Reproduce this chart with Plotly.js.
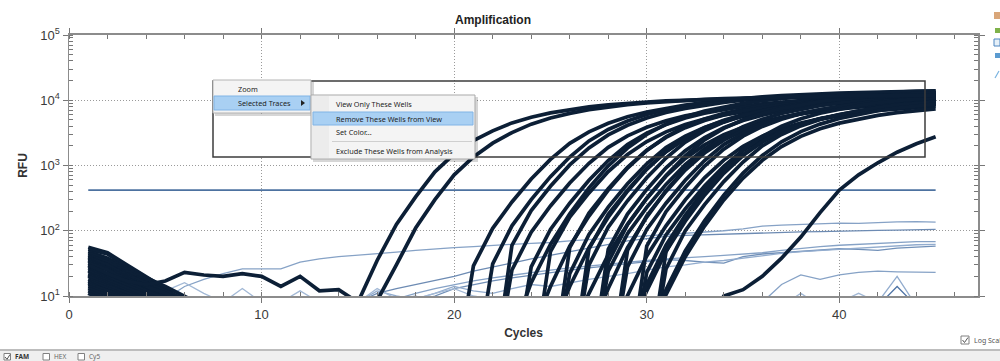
<!DOCTYPE html>
<html><head><meta charset="utf-8">
<script src="https://cdn.plot.ly/plotly-3.0.1.min.js"></script>
<style>html,body{margin:0;padding:0;background:#fff;}#chart{width:1000px;height:361px;}</style>
</head><body><div id="chart"></div>
<script>
// ---------------- DATA ----------------
const thresholdRFU = 420;
const thresholdCycles = [1, 45];

// early amplifying wells (value list starts at the given cycle)
const earlyAStart = 1;
const earlyA = [30,22,17,15,17,23,21,20,22,20,14,20,12,12.5,8,35,125,330,800,1500,2400,3400,4500,5500,6400,7200,7900,8500,9000,9400,9750,10000,10250,10450,10650,10800,10950,11100,11200,11300,11400,11500,11600,11650,11700];
const earlyBStart = 15;
const earlyB = [3,8.5,30,110,300,720,1350,2200,3200,4300,5350,6300,7150,7900,8550,9100,9550,9950,10300,10600,10850,11050,11250,11400,11550,11650,11750,11850,11900,11950,12000];
const lateCStart = 33;
const lateC = [3,10,12.5,20,38,80,190,420,720,1100,1600,2150,2750];

// main group of amplifying wells: first cycle of each list
const mainStart = [20,21,22,22,23,23,24,24,25,25,25,26,26,26,27,27,27,28,28,28,29,29,29,29,30,30,30,30,27];
const mainValues = [
 [0.5,29,109,276,621,1240,2190,3280,4430,5580,6610,7590,8450,9200,9830,10350,10810,11210,11560,11850,12080,12300,12480,12650,12770,12880],
 [0.5,31,119,300,675,1350,2380,3560,4810,6060,7190,8250,9190,10000,10690,11250,11750,12190,12560,12880,13130,13380,13560,13750,13880],
 [0.5,25,95,240,540,1080,1900,2850,3850,4850,5750,6600,7350,8000,8550,9000,9400,9750,10050,10300,10500,10700,10850,11000],
 [0.5,60,204,480,1020,1860,2940,4140,5340,6480,7500,8460,9300,10020,10620,11100,11520,11880,12180,12420,12660,12840,13020,13140],
 [0.5,28,105,264,594,1190,2090,3140,4240,5340,6330,7260,8090,8800,9410,9900,10340,10730,11060,11330,11550,11770,11940],
 [2.5,16,62,182,455,990,1850,2990,4290,5590,6830,7930,8970,9880,10660,11310,11900,12350,12740,13070,13390,13650,13850],
 [0.5,48,162,380,808,1470,2330,3280,4230,5130,5940,6700,7360,7930,8410,8790,9120,9410,9640,9830,10020,10170],
 [2.5,14,58,168,420,912,1700,2760,3960,5160,6300,7320,8280,9120,9840,10440,10980,11400,11760,12060,12360,12600],
 [0.5,55,187,440,935,1710,2700,3800,4900,5940,6880,7760,8530,9190,9740,10180,10560,10890,11170,11390,11610],
 [0.5,22,88,230,525,1060,1880,2830,3830,4830,5740,6590,7340,7990,8540,8990,9390,9740,10040,10290,10490],
 [2.5,14,55,161,403,874,1630,2650,3800,4950,6040,7020,7940,8740,9430,10010,10520,10930,11270,11560,11850],
 [0.5,53,179,420,893,1630,2570,3620,4670,5670,6560,7400,8140,8770,9290,9710,10080,10400,10660,10870],
 [0.5,30,114,288,648,1300,2280,3420,4620,5820,6900,7920,8820,9600,10260,10800,11280,11700,12060,12360],
 [2.5,11,43,126,315,684,1280,2070,2970,3870,4730,5490,6210,6840,7380,7830,8240,8550,8820,9050],
 [0.5,52,180,430,920,1690,2680,3780,4880,5920,6860,7740,8510,9170,9720,10160,10540,10870,11150],
 [0.5,24,90,228,513,1030,1810,2710,3660,4610,5460,6270,6980,7600,8120,8550,8930,9260,9550],
 [2.5,13,55,162,410,895,1680,2730,3920,5120,6260,7280,8240,9080,9800,10400,10940,11360,11720],
 [0.5,50,170,400,850,1550,2450,3450,4450,5400,6250,7050,7750,8350,8850,9250,9600,9900],
 [0.5,28,105,264,594,1190,2090,3140,4240,5340,6330,7260,8090,8800,9410,9900,10340,10730],
 [2.5,10.5,41,119,298,646,1210,1960,2810,3660,4460,5190,5870,6460,6970,7400,7780,8080],
 [0.5,58,196,460,978,1780,2820,3970,5120,6210,7190,8110,8910,9600,10180,10640,11040],
 [0.5,23,86,216,486,972,1710,2570,3470,4370,5180,5940,6620,7200,7700,8100,8460],
 [2.5,12,48,140,350,760,1420,2300,3300,4300,5250,6100,6900,7600,8200,8700,9150],
 [2.5,15,60,172,428,925,1720,2780,3990,5190,6330,7350,8310,9150,9870,10470,11000],
 [0.5,48,162,380,808,1470,2330,3280,4230,5130,5940,6700,7360,7930,8410,8790],
 [0.5,26,100,252,567,1130,2000,2990,4040,5090,6040,6930,7720,8400,8980,9450],
 [2.5,10.5,40,118,296,640,1200,1950,2800,3650,4460,5180,5860,6450,6960,7390],
 [2.5,12.5,49,142,352,765,1425,2305,3310,4310,5260,6110,6910,7610,8210,8710],
 [0.5,33,124,312,702,1400,2470,3710,5010,6310,7480,8580,9560,10400,11120,11700,12220,12680,13070]
];

// early-cycle baseline drift of the wells (lists start at cycle 1)
const baseValues = [
 [56,46,30,20,13,8],[52,44,28,19,14,10,7],[48,38,26,18,12,8],[45,36,24,16,11,7],
 [42,33,22,15,10,7],[40,30,21,16,12,9],[38,30,20,14,10,6],[36,27,19,13,9],
 [34,26,18,14,11,8],[32,25,17,12,8],[29,22,15,11,8],[27,21,16,12,9],
 [25,19,14,11,8],[24,18,13,10,7],[22,17,13,10,8],[21,16,12,9],[20,15,11,8],
 [18,14,11,9],[17,13,10,8],[16,12,10,8],[15,12,9],[14,11,9],[13,10,8],[12,9],[11,8]
];

// non-amplifying wells (thin lines): first cycle of each list
const thinStart = [5,15,17,18,15,35,4,11,41,42,37,40,15,18];
const thinValues = [
 [9,14,18,22,26,26,26,33,37,40,42,45,47,50,53,55,57,60,62,64,66,70,73,77,80,84,87,92,96,100,107,118,122,126,128,131,130,134,137,138,136],
 [8,11,13,15,17,20,24,28,32,37,42,48,55,62,70,76,82,85,87,89,90,92,94,96,97,99,100,101,102,103,105],
 [9,11,13,15,17,19,21,23,25,27,29,31,33,35,37,38,40,42,44,46,50,54,57,60,62,64,66,68,68],
 [8,10,13,15,17,19,21,23,25,27,29,31,33,36,35,33,32,40,44,46,48,51,53,52,50,54,56,58],
 [8,12,10,9,11,14,12,11,13,15,14,16,18,20,22,25,28,30,33,35,38,42,45,48,50,52,55,57,59,61,62],
 [4,8,15,21,18,21,23,24,23.5,23,23],
 [8,12,16,11,8,13,8],
 [8,12,8],
 [6,8,20,7,5],
 [7,14,7],
 [7,11,7],
 [8,11,8],
 [8,13,9,10,8],
 [9,11,13,10,9]
];

// ---------------- BUILD ----------------
function cyclesFrom(start, n){ const c=[]; for(let i=0;i<n;i++) c.push(start+i); return c; }
const thick = {color:'#0c1f36', width:3.7};
const thinColors = ['#86a2c6','#6d8bb3','#86a2c6','#7190b8','#92acce','#86a2c6','#a3b9d6','#a3b9d6','#92acce','#4f74a6','#a3b9d6','#a3b9d6','#a3b9d6','#a3b9d6'];
const traces = [];
thinValues.forEach((v,i)=>traces.push({x:cyclesFrom(thinStart[i],v.length), y:v, mode:'lines', line:{color:thinColors[i], width:1.3}}));
traces.push({x:thresholdCycles, y:[thresholdRFU,thresholdRFU], mode:'lines', line:{color:'#4d72a0', width:1.6}});
baseValues.forEach(v=>traces.push({x:cyclesFrom(1,v.length), y:v, mode:'lines', line:thick}));
mainValues.forEach((v,i)=>traces.push({x:cyclesFrom(mainStart[i],v.length), y:v, mode:'lines', line:thick}));
traces.push({x:cyclesFrom(earlyAStart,earlyA.length), y:earlyA, mode:'lines', line:thick});
traces.push({x:cyclesFrom(earlyBStart,earlyB.length), y:earlyB, mode:'lines', line:thick});
traces.push({x:cyclesFrom(lateCStart,lateC.length), y:lateC, mode:'lines', line:thick});

// overlay geometry helpers (pixel -> paper)
const PL=69, PR=978, PT=35, PB=296;
const fx = p => (p-PL)/(PR-PL);
const fy = p => (PB-p)/(PB-PT);
function rect(x0,y0,x1,y1,fill,line,lw){ return {type:'rect',xref:'paper',yref:'paper',x0:fx(x0),x1:fx(x1),y0:fy(y1),y1:fy(y0),fillcolor:fill,line:{color:line||'rgba(0,0,0,0)',width:lw||0},layer:'above'}; }
function hline(x0,x1,y,color,w){ return {type:'line',xref:'paper',yref:'paper',x0:fx(x0),x1:fx(x1),y0:fy(y),y1:fy(y),line:{color:color,width:w}}; }
function txt(x,y,t,size,color,weight){ return {xref:'paper',yref:'paper',x:fx(x),y:fy(y),text:t,showarrow:false,xanchor:'left',yanchor:'middle',font:{family:'Noto Sans, Open Sans, sans-serif',size:size,color:color||'#1e1e1e',weight:weight||'normal'}}; }

const menuFont = 7.3;
const shapes = [
 rect(213,81,925,157,'rgba(0,0,0,0)','#3c3c3c',1.5),
 rect(214.5,114,310,156,'#ffffff'),
 rect(215,82,314,116,'rgba(0,0,0,0.16)'),
 rect(213,80,311,113,'#f4f4f4','#b4b4b4',1),
 rect(214,96,310,110,'#a9d0f3','#80b4e6',1),
 rect(313,97,478,162,'rgba(0,0,0,0.16)'),
 rect(311,95,475,159,'#f4f4f4','#a9a9a9',1),
 rect(312,96,329,158,'#ececec'),
 rect(313,112,473,125,'#a9d0f3','#80b4e6',1),
 hline(332,472,141.5,'#cfcfcf',1),
 {type:'path',xref:'paper',yref:'paper',path:`M ${fx(301)} ${fy(100)} L ${fx(305)} ${fy(103)} L ${fx(301)} ${fy(106)} Z`,fillcolor:'#222',line:{width:0}},
 // right-edge legend icons
 rect(994,12,1000,19,'#d9a679'),
 rect(995,28,1000,33,'#7fb24a'),
 rect(994,39,1000,46,'#e6f0f8','#4f86c0',1),
 rect(995,53,1000,58,'#5b9bd0'),
 {type:'line',xref:'paper',yref:'paper',x0:fx(995),x1:fx(999),y0:fy(78),y1:fy(71),line:{color:'#79b3e0',width:1.2}},
 // Log scale checkbox
 rect(961,336,969,344,'#ffffff','#808080',1),
 {type:'path',xref:'paper',yref:'paper',path:`M ${fx(962.5)} ${fy(340)} L ${fx(964.5)} ${fy(342.5)} L ${fx(968)} ${fy(337.5)}`,line:{color:'#555',width:1}},
 // bottom panel
 rect(0,351,1000,362,'#efefef'),
 hline(0,1000,350,'#bdbdbd',2),
 rect(4,353.5,10.5,360,'#ffffff','#808080',1),
 {type:'path',xref:'paper',yref:'paper',path:`M ${fx(5)} ${fy(357)} L ${fx(7)} ${fy(359.3)} L ${fx(10)} ${fy(354.5)}`,line:{color:'#555',width:1}},
 rect(43,353.5,49.5,360,'#ffffff','#808080',1),
 rect(78,353.5,84.5,360,'#ffffff','#808080',1)
];

const annotations = [
 txt(236,89,'Zoom',menuFont),
 txt(236,103,'Selected Traces',menuFont),
 txt(334,104,'View Only These Wells',menuFont),
 txt(334,118.5,'Remove These Wells from View',menuFont),
 txt(334,132,'Set Color...',menuFont),
 txt(334,151,'Exclude These Wells from Analysis',menuFont),
 txt(972,340,'Log Scale',7,'#555'),
 txt(13,356.5,'FAM',6.5,'#333','bold'),
 txt(52,356.5,'HEX',6.5,'#666'),
 txt(87,356.5,'Cy5',6.5,'#666')
];

const axisFont = {family:'Liberation Sans, Arial, sans-serif', size:13, color:'#3a3a3a'};
const gridDash = '1px,2px';
const layout = {
 width:1000, height:361,
 margin:{l:PL, r:1000-PR, t:PT, b:361-PB, autoexpand:false},
 paper_bgcolor:'#ffffff', plot_bgcolor:'#ffffff',
 showlegend:false, hovermode:false,
 font:{family:'Liberation Sans, Arial, sans-serif'},
 title:{text:'<b>Amplification</b>', font:{family:'Liberation Sans, Arial, sans-serif', size:12, color:'#222'}, xref:'container', yref:'container', x:0.493, y:1-20/361, xanchor:'center', yanchor:'middle'},
 xaxis:{range:[0,47.2], tickmode:'linear', tick0:0, dtick:10, ticks:'outside', ticklen:5, tickcolor:'#777',
  showgrid:true, gridcolor:'#9a9a9a', griddash:gridDash, gridwidth:1, zeroline:false,
  showline:true, linecolor:'#8c8c8c', linewidth:2, mirror:'ticks', tickfont:axisFont,
  minor:{dtick:2, ticks:'inside', ticklen:4, tickcolor:'#777', showgrid:false},
  title:{text:'<b>Cycles</b>', font:{family:'Liberation Sans, Arial, sans-serif', size:12, color:'#333'}, standoff:8}},
 yaxis:{type:'log', range:[1,5], tickmode:'array', tickvals:[10,100,1000,10000,100000],
  ticktext:['10<sup>1</sup>','10<sup>2</sup>','10<sup>3</sup>','10<sup>4</sup>','10<sup>5</sup>'],
  ticks:'outside', ticklen:5, tickcolor:'#777',
  showgrid:true, gridcolor:'#9a9a9a', griddash:gridDash, gridwidth:1, zeroline:false,
  showline:true, linecolor:'#8c8c8c', linewidth:1.5, mirror:'ticks', tickfont:axisFont,
  minor:{dtick:'D1', ticks:'inside', ticklen:4, tickcolor:'#777', showgrid:false},
  title:{text:'<b>RFU</b>', font:{family:'Liberation Sans, Arial, sans-serif', size:12, color:'#333'}, standoff:10}},
 shapes:shapes, annotations:annotations
};
Plotly.newPlot('chart', traces, layout, {staticPlot:true, displayModeBar:false});
</script></body></html>
